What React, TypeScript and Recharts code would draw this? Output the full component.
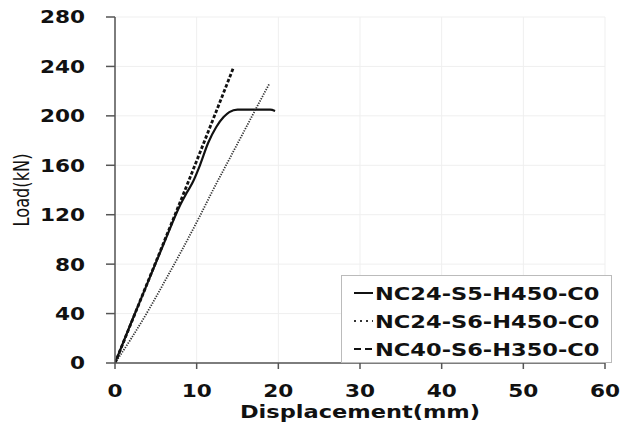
import { LineChart, Line, XAxis, YAxis, CartesianGrid, Legend } from "recharts";

const xTicks = [0, 10, 20, 30, 40, 50, 60];
const yTicks = [0, 40, 80, 120, 160, 200, 240, 280];

// NC24-S5-H450-C0 (solid)
const s5Disp = [0, 2, 4, 6, 8, 8.8, 9.5, 10.4, 11.4, 12.4, 13.3, 14, 15, 16.5, 18, 19, 19.6];
const s5Load = [0, 33, 65, 97, 128, 138, 146, 160, 178, 191, 199, 203, 205, 205, 205, 205, 204];

// NC24-S6-H450-C0 (dotted)
const s6Disp = [0, 2, 4.3, 6, 8, 10.4, 12, 14, 16, 18, 18.9];
const s6Load = [0, 20, 45, 65, 89, 119, 140, 165, 190, 215, 226];

// NC40-S6-H350-C0 (dashed)
const nc40Disp = [0, 3, 6, 9, 12, 14.5];
const nc40Load = [0, 49, 98, 147, 197, 239];

const zip = (xs: number[], ys: number[]) => xs.map((x, i) => ({ x, y: ys[i] }));

const series = [
  { name: "NC24-S5-H450-C0", data: zip(s5Disp, s5Load), dash: undefined, legDash: undefined, width: 2.2, color: "#111" },
  { name: "NC24-S6-H450-C0", data: zip(s6Disp, s6Load), dash: "1.3 1.3", legDash: "2 4", width: 1.8, color: "#333" },
  { name: "NC40-S6-H350-C0", data: zip(nc40Disp, nc40Load), dash: "3.5 2", legDash: "7 4", width: 2.8, color: "#111" },
];

const TICK_FONT = "'DejaVu Sans', Verdana, sans-serif";
const AXIS = "#555";

const XTick = (props: any) => {
  const { x, y, payload } = props;
  return (
    <text
      transform={`translate(${x},${y}) scale(1.2,1)`}
      textAnchor="middle"
      dy="0.71em"
      fontFamily={TICK_FONT}
      fontWeight="bold"
      fontSize={18}
      fill="#111"
    >
      {payload.value}
    </text>
  );
};

const YTick = (props: any) => {
  const { x, y, payload } = props;
  return (
    <text
      transform={`translate(${x},${y}) scale(1.2,1)`}
      textAnchor="end"
      dy="0.36em"
      fontFamily={TICK_FONT}
      fontWeight="bold"
      fontSize={18}
      fill="#111"
    >
      {payload.value}
    </text>
  );
};

const XLabel = (props: any) => {
  const vb = props.viewBox;
  return (
    <text
      transform={`translate(${vb.x + vb.width / 2},${vb.y + 55}) scale(1.25,1)`}
      textAnchor="middle"
      fontFamily={TICK_FONT}
      fontWeight="bold"
      fontSize={18}
      fill="#111"
    >
      Displacement(mm)
    </text>
  );
};

const YLabel = (props: any) => {
  const vb = props.viewBox;
  return (
    <text
      transform={`translate(22,${vb.y + vb.height / 2}) scale(1.2,1) rotate(-90)`}
      textAnchor="middle"
      dominantBaseline="central"
      fontFamily="'DejaVu Sans Condensed', 'Liberation Sans Narrow', sans-serif"
      fontSize={18}
      fill="#111"
    >
      Load(kN)
    </text>
  );
};

const LegendBox = () => (
  <div
    style={{
      width: 271,
      height: 88,
      boxSizing: "border-box",
      border: "1px solid #bbb",
      background: "#fff",
      paddingTop: 3,
    }}
  >
    {series.map((s) => (
      <div key={s.name} style={{ height: 28, display: "flex", alignItems: "center" }}>
        <svg width={33} height={10} style={{ flex: "none" }}>
          <line
            x1={12}
            x2={31}
            y1={5}
            y2={5}
            stroke={s.color}
            strokeWidth={2}
            strokeDasharray={s.legDash}
          />
        </svg>
        <span
          style={{
            fontFamily: TICK_FONT,
            fontWeight: "bold",
            fontSize: 18,
            color: "#111",
            transform: "scale(1.25,1)",
            transformOrigin: "left center",
            whiteSpace: "nowrap",
            display: "inline-block",
          }}
        >
          {s.name}
        </span>
      </div>
    ))}
  </div>
);

export default function App() {
  return (
    <div style={{ position: "absolute", left: 0, top: 0, width: 628, height: 427, background: "#fff" }}>
      <LineChart width={628} height={427} margin={{ top: 17, right: 23, left: 0, bottom: 0 }}>
        <CartesianGrid stroke="#efefef" />
        <XAxis
          type="number"
          dataKey="x"
          domain={[0, 60]}
          ticks={xTicks}
          allowDataOverflow
          height={64}
          tickSize={6}
          tickMargin={15}
          axisLine={{ stroke: AXIS, strokeWidth: 1.5 }}
          tickLine={{ stroke: AXIS, strokeWidth: 1.5 }}
          tick={<XTick />}
          label={<XLabel />}
        />
        <YAxis
          type="number"
          domain={[0, 280]}
          ticks={yTicks}
          allowDataOverflow
          width={115}
          tickSize={9}
          tickMargin={21}
          axisLine={{ stroke: AXIS, strokeWidth: 1.5 }}
          tickLine={{ stroke: AXIS, strokeWidth: 1.5 }}
          tick={<YTick />}
          label={<YLabel />}
        />
        <Legend
          layout="vertical"
          align="center"
          verticalAlign="middle"
          wrapperStyle={{ left: 341, top: 275, width: 271, height: 88 }}
          content={<LegendBox />}
        />
        {series.map((s) => (
          <Line
            key={s.name}
            name={s.name}
            data={s.data}
            dataKey="y"
            type="monotone"
            stroke={s.color}
            strokeWidth={s.width}
            strokeDasharray={s.dash}
            dot={false}
            activeDot={false}
            isAnimationActive={false}
          />
        ))}
      </LineChart>
    </div>
  );
}
